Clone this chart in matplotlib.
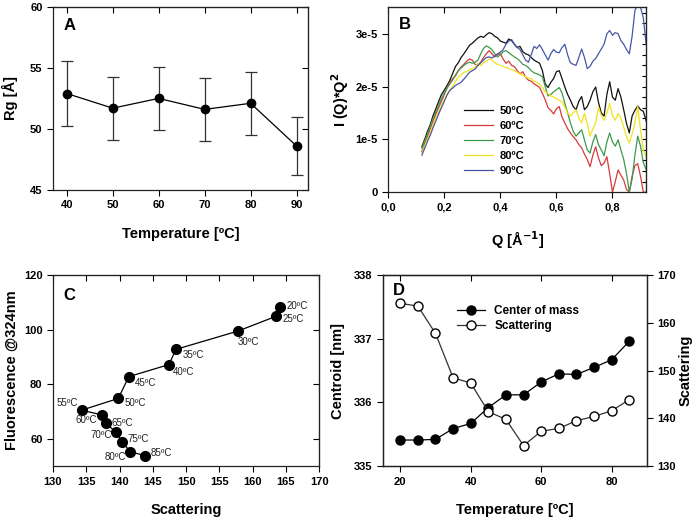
import matplotlib
matplotlib.use("Agg")
import matplotlib.pyplot as plt
from matplotlib.ticker import FuncFormatter
from matplotlib.lines import Line2D

plt.rcParams['font.family'] = ['Liberation Sans', 'DejaVu Sans']
plt.rcParams['font.weight'] = 'bold'
plt.rcParams['axes.labelweight'] = 'bold'

# ---- panel A: radius of gyration
temp_a = [40, 50, 60, 70, 80, 90]
rg = [52.9, 51.7, 52.5, 51.6, 52.1, 48.6]
rg_err = [2.63, 2.59, 2.6, 2.57, 2.6, 2.4]

# ---- panel B: Kratky curves I(Q)*Q^2 (units of 1e-5)
q = [0.12, 0.13, 0.14, 0.15, 0.16, 0.17, 0.18, 0.19, 0.20, 0.21,
     0.22, 0.23, 0.24, 0.25, 0.26, 0.27, 0.28, 0.29, 0.30, 0.31,
     0.32, 0.33, 0.34, 0.35, 0.36, 0.37, 0.38, 0.39, 0.40, 0.41,
     0.42, 0.43, 0.44, 0.45, 0.46, 0.47, 0.48, 0.49, 0.50, 0.51,
     0.52, 0.53, 0.54, 0.55, 0.56, 0.57, 0.58, 0.59, 0.60, 0.61,
     0.62, 0.63, 0.64, 0.65, 0.66, 0.67, 0.68, 0.69, 0.70, 0.71,
     0.72, 0.73, 0.74, 0.75, 0.76, 0.77, 0.78, 0.79, 0.80, 0.81,
     0.82, 0.83, 0.84, 0.85, 0.86, 0.87, 0.88, 0.89, 0.90, 0.91,
     0.92]
i50 = [0.86, 1.00, 1.15, 1.28, 1.45, 1.58, 1.72, 1.85, 1.93, 2.02,
       2.12, 2.25, 2.38, 2.45, 2.55, 2.62, 2.70, 2.78, 2.82, 2.87,
       2.92, 2.95, 2.93, 2.98, 3.02, 3.00, 2.95, 2.92, 2.86, 2.84,
       2.82, 2.90, 2.87, 2.80, 2.74, 2.76, 2.66, 2.62, 2.60, 2.55,
       2.50, 2.47, 2.44, 2.30, 2.05, 1.98, 2.08, 2.15, 2.28, 2.30,
       2.15, 1.99, 1.85, 1.74, 1.62, 1.56, 1.72, 1.81, 1.56, 1.62,
       1.74, 1.90, 1.99, 1.70, 1.50, 1.44, 1.85, 2.09, 1.80, 1.74,
       1.96, 1.80, 1.56, 1.30, 1.12, 1.44, 1.55, 1.63, 1.56, 1.53,
       1.35]
i60 = [0.77, 0.92, 1.05, 1.20, 1.35, 1.48, 1.60, 1.72, 1.85, 1.98,
       2.08, 2.15, 2.20, 2.30, 2.37, 2.42, 2.48, 2.52, 2.50, 2.42,
       2.40, 2.46, 2.55, 2.62, 2.68, 2.62, 2.56, 2.60, 2.62, 2.52,
       2.44, 2.48, 2.40, 2.38, 2.30, 2.24, 2.28, 2.18, 2.12, 2.10,
       2.05, 2.02, 1.98, 1.87, 1.75, 1.60, 1.55, 1.48, 1.58, 1.62,
       1.42, 1.31, 1.20, 1.12, 1.05, 0.99, 0.90, 0.84, 0.72, 0.62,
       0.48, 0.70, 0.86, 0.65, 0.50, 0.55, 0.67, 0.35, 0.00, 0.20,
       0.42, 0.32, 0.23, 0.05, 0.00, 0.30, 0.50, 0.54, 0.30, 0.00,
       0.00]
i70 = [0.83, 0.97, 1.10, 1.25, 1.40, 1.52, 1.65, 1.77, 1.88, 1.97,
       2.05, 2.12, 2.22, 2.30, 2.35, 2.40, 2.44, 2.46, 2.44, 2.46,
       2.50, 2.62, 2.72, 2.77, 2.74, 2.70, 2.62, 2.56, 2.60, 2.66,
       2.68, 2.64, 2.60, 2.56, 2.53, 2.48, 2.42, 2.40, 2.36, 2.30,
       2.26, 2.24, 2.22, 2.18, 2.00, 1.82, 1.85, 1.90, 1.94, 1.98,
       1.88, 1.68, 1.50, 1.31, 1.15, 1.06, 1.12, 1.18, 0.99, 0.80,
       0.74, 0.95, 1.09, 0.90, 0.80, 0.69, 0.95, 1.12, 0.95, 0.87,
       0.99, 0.80, 0.62, 0.35, 0.00, 0.25, 0.70, 1.06, 0.87, 0.56,
       0.43]
i80 = [0.74, 0.88, 1.00, 1.12, 1.27, 1.40, 1.52, 1.64, 1.75, 1.85,
       1.93, 2.00, 2.10, 2.18, 2.22, 2.27, 2.28, 2.32, 2.34, 2.36,
       2.44, 2.40, 2.45, 2.48, 2.52, 2.50, 2.45, 2.42, 2.40, 2.38,
       2.36, 2.34, 2.32, 2.30, 2.27, 2.24, 2.22, 2.18, 2.16, 2.15,
       2.10, 2.08, 2.05, 1.98, 1.90, 1.87, 1.82, 1.80, 1.77, 1.74,
       1.71, 1.61, 1.50, 1.44, 1.50, 1.56, 1.40, 1.31, 1.49, 1.30,
       1.06, 1.20, 1.31, 1.61, 1.45, 1.36, 1.50, 1.68, 1.45, 1.36,
       1.49, 1.40, 1.23, 1.05, 0.93, 1.10, 1.31, 1.62, 1.18, 0.80,
       0.67]
i90 = [0.70, 0.83, 0.96, 1.08, 1.22, 1.35, 1.48, 1.60, 1.72, 1.84,
       1.93, 1.97, 2.02, 2.05, 2.08, 2.14, 2.20, 2.27, 2.30, 2.33,
       2.40, 2.45, 2.50, 2.55, 2.56, 2.54, 2.58, 2.62, 2.65, 2.70,
       2.80, 2.86, 2.89, 2.80, 2.74, 2.70, 2.60, 2.50, 2.46, 2.60,
       2.76, 2.72, 2.79, 2.70, 2.60, 2.50, 2.62, 2.70, 2.65, 2.64,
       2.74, 2.80, 2.60, 2.45, 2.42, 2.40, 2.55, 2.71, 2.55, 2.34,
       2.38, 2.48, 2.53, 2.62, 2.71, 2.80, 3.00, 3.06, 2.97, 3.02,
       3.00, 2.87, 2.80, 2.70, 2.62, 2.95, 3.44, 3.55, 3.50, 3.30,
       2.80]
kratky_labels = ['50ºC', '60ºC', '70ºC', '80ºC', '90ºC']
kratky_colors = ['#111111', '#d83a3a', '#3d9a4c', '#f2e21e', '#4856a8']

# ---- panels C and D: fluorescence / scattering vs temperature
temp_cd = [20, 25, 30, 35, 40, 45, 50, 55, 60, 65, 70, 75, 80, 85]
scattering = [164.1, 163.5, 157.8, 148.5, 147.4, 141.4, 139.8,
              134.3, 137.3, 137.9, 139.5, 140.4, 141.6, 143.9]
fluorescence = [108.2, 104.9, 99.5, 92.8, 87.2, 82.8, 74.8,
                70.5, 68.8, 65.8, 62.4, 58.9, 55.3, 53.8]
centroid = [335.41, 335.41, 335.42, 335.59, 335.67, 335.92, 336.12,
            336.12, 336.32, 336.45, 336.44, 336.55, 336.67, 336.96]

TICK = 8
LAB = 10.5

fig = plt.figure(figsize=(6.97, 5.22), dpi=100)


def inward_top_right(ax, right=True):
    # top (and right) ticks point inward, bottom/left outward
    ax.tick_params(axis='x', which='major', direction='out', top=False, length=4)
    ax.tick_params(axis='y', which='major', direction='out', right=False, length=4)
    sec_x = ax.secondary_xaxis('top')
    sec_x.set_xticks(ax.get_xticks())
    sec_x.tick_params(direction='in', length=4, labeltop=False)
    if right:
        sec_y = ax.secondary_yaxis('right')
        sec_y.set_yticks(ax.get_yticks())
        sec_y.tick_params(direction='in', length=4, labelright=False)


# ---------------- A
axA = fig.add_axes([0.076, 0.636, 0.366, 0.351])
axA.errorbar(temp_a, rg, yerr=rg_err, color='black', lw=0.9, marker='o', ms=6,
             ecolor='#333333', elinewidth=0.9, capsize=4, capthick=0.9)
axA.set_xlim(37, 92.5)
axA.set_ylim(45, 60)
axA.set_xticks([40, 50, 60, 70, 80, 90])
axA.set_yticks([45, 50, 55, 60])
inward_top_right(axA)
axA.tick_params(labelsize=TICK)
axA.set_xlabel('Temperature [ºC]', fontsize=LAB, labelpad=12)
axA.set_ylabel('Rg [Å]', fontsize=LAB, labelpad=9)
axA.text(0.04, 0.94, 'A', transform=axA.transAxes, fontsize=12, fontweight='bold', va='top')

# ---------------- B
axB = fig.add_axes([0.557, 0.632, 0.370, 0.354])
for ys, lab, col in zip([i50, i60, i70, i80, i90], kratky_labels, kratky_colors):
    axB.plot(q, [v * 1e-5 for v in ys], color=col, lw=0.9, label=lab)
axB.set_xlim(0, 0.92)
axB.set_ylim(0, 3.5e-5)
axB.set_xticks([0.0, 0.2, 0.4, 0.6, 0.8])
axB.xaxis.set_major_formatter(FuncFormatter(lambda v, p: f'{v:.1f}'.replace('.', ',')))
axB.set_yticks([0, 1e-5, 2e-5, 3e-5])
axB.yaxis.set_major_formatter(FuncFormatter(lambda v, p: '0' if v == 0 else f'{v / 1e-5:.0f}e-5'))
inward_top_right(axB, right=False)
secy = axB.secondary_yaxis('right')
secy.set_yticks([k * 0.2e-5 for k in range(1, 18)])
secy.tick_params(direction='in', length=3, labelright=False)
axB.tick_params(labelsize=TICK)
axB.set_xlabel('Q [Å$^{\\mathbf{-1}}$]', fontsize=LAB, labelpad=12)
axB.set_ylabel('I (Q)*Q$^{\\mathbf{2}}$', fontsize=LAB, labelpad=3)
axB.text(0.04, 0.95, 'B', transform=axB.transAxes, fontsize=12, fontweight='bold', va='top')
axB.legend(loc='upper left', bbox_to_anchor=(0.255, 0.52), frameon=False,
           handlelength=2.6, labelspacing=0.45, handletextpad=0.6,
           prop={'weight': 'bold', 'size': 8})

# ---------------- C
axC = fig.add_axes([0.076, 0.107, 0.382, 0.366])
axC.plot(scattering, fluorescence, color='black', lw=0.9, marker='o', ms=7, zorder=3)
axC.set_xlim(130, 170)
axC.set_ylim(50, 120)
axC.set_xticks(range(130, 171, 5))
axC.set_yticks([60, 80, 100, 120])
inward_top_right(axC)
axC.tick_params(labelsize=TICK)
axC.set_xlabel('Scattering', fontsize=LAB, labelpad=12)
axC.set_ylabel('Fluorescence @324nm', fontsize=LAB, labelpad=4)
axC.text(0.04, 0.93, 'C', transform=axC.transAxes, fontsize=12, fontweight='bold', va='top')
# temperature tags: (dx, dy) in points and alignment
tag_offsets = [(5, 1, 'left'), (5, -2, 'left'), (0, -8, 'left'), (5, -4, 'left'),
               (3, -5, 'left'), (4, -4.5, 'left'), (4.5, -3, 'left'), (-3, 5, 'right'),
               (-3, -4, 'right'), (4, 0, 'left'), (-3, -2, 'right'), (4, 2, 'left'),
               (-3, -4, 'right'), (4, 2, 'left')]
for t, sx, fy, (dx, dy, ha) in zip(temp_cd, scattering, fluorescence, tag_offsets):
    axC.annotate(f'{t}ºC', (sx, fy), xytext=(dx, dy), textcoords='offset points',
                 ha=ha, va='center', fontsize=7, fontweight='normal', color='#222222')

# ---------------- D
axD = fig.add_axes([0.549, 0.107, 0.379, 0.366])
axD.plot(temp_cd, centroid, color='black', lw=0.9, marker='o', ms=6.5,
         mfc='black', mec='black', zorder=3)
axD.set_xlim(15, 90)
axD.set_ylim(335, 338)
axD.set_xticks([20, 40, 60, 80])
axD.set_yticks([335, 336, 337, 338])
axD.tick_params(axis='both', direction='out', length=4, labelsize=TICK)
sxD = axD.secondary_xaxis('top')
sxD.set_xticks([20, 40, 60, 80])
sxD.tick_params(direction='in', length=4, labeltop=False)
axD2 = axD.twinx()
axD2.plot(temp_cd, scattering, color='#333333', lw=0.9, marker='o', ms=6.5,
          mfc='white', mec='black', zorder=3)
axD2.set_ylim(130, 170)
axD2.set_yticks([130, 140, 150, 160, 170])
axD2.tick_params(axis='y', direction='out', length=4, labelsize=TICK)
axD.set_xlabel('Temperature [ºC]', fontsize=LAB, labelpad=12)
axD.set_ylabel('Centroid [nm]', fontsize=LAB, labelpad=6)
axD2.set_ylabel('Scattering', fontsize=LAB, labelpad=2)
axD.text(0.04, 0.96, 'D', transform=axD.transAxes, fontsize=12, fontweight='bold', va='top')
handles = [Line2D([], [], color='black', lw=0.9, marker='o', ms=6.5, mfc='black', mec='black'),
           Line2D([], [], color='#333333', lw=0.9, marker='o', ms=6.5, mfc='white', mec='black')]
axD.legend(handles, ['Center of mass', 'Scattering'], loc='upper left',
           bbox_to_anchor=(0.24, 0.90), frameon=False, handlelength=2.4,
           labelspacing=0.3, prop={'weight': 'bold', 'size': 8.5})

for ax in [axA, axB, axC, axD, axD2]:
    for lbl in ax.get_xticklabels() + ax.get_yticklabels():
        lbl.set_fontweight('bold')
    for s in ax.spines.values():
        s.set_linewidth(0.9)
        s.set_color('#222222')

fig.savefig('out.png', dpi=100)
